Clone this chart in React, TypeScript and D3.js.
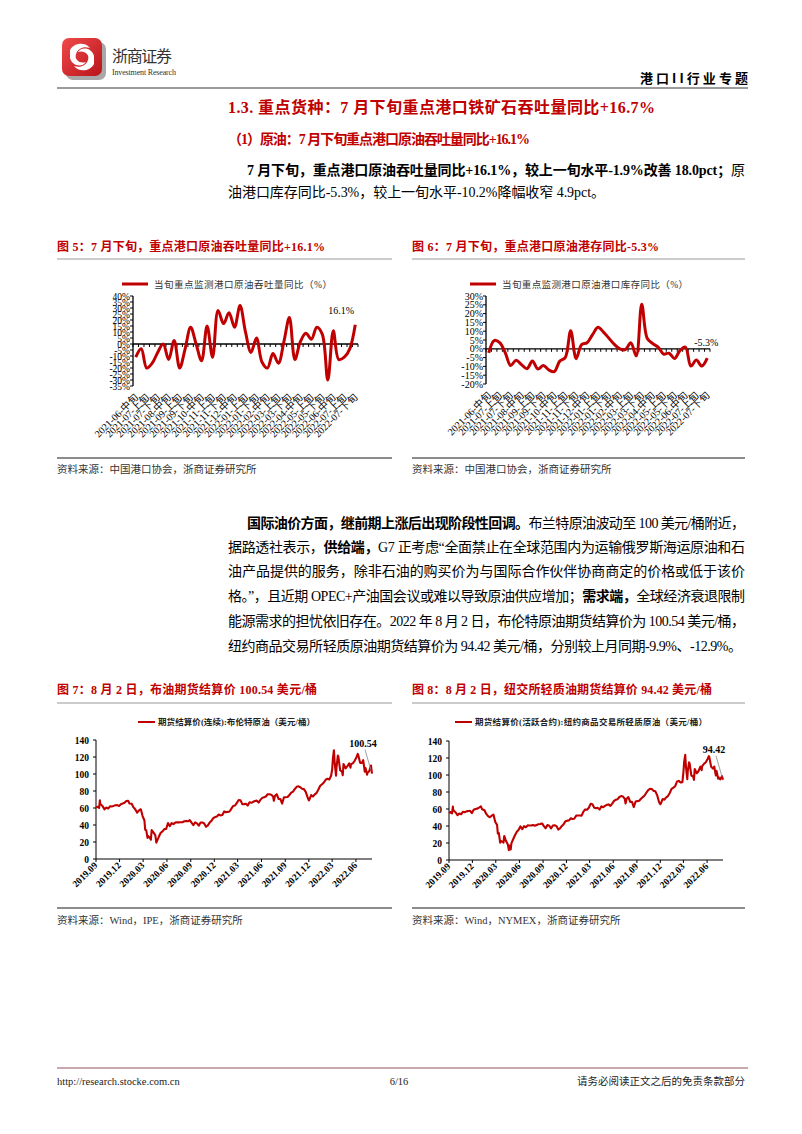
import React from 'react';
import * as d3 from 'd3';

const RED = '#C00000';
const SERIF = '"Liberation Serif", "Times New Roman", "Noto Sans CJK SC", serif';

// ---------- data ----------
const dekads = [
  '2021-06-中旬','2021-06-下旬','2021-07-上旬','2021-07-中旬','2021-07-下旬','2021-08-上旬','2021-08-中旬','2021-08-下旬',
  '2021-09-上旬','2021-09-中旬','2021-09-下旬','2021-10-上旬','2021-10-中旬','2021-10-下旬','2021-11-上旬','2021-11-中旬',
  '2021-11-下旬','2021-12-上旬','2021-12-中旬','2021-12-下旬','2022-01-上旬','2022-01-中旬','2022-01-下旬','2022-02-上旬',
  '2022-02-中旬','2022-02-下旬','2022-03-上旬','2022-03-中旬','2022-03-下旬','2022-04-上旬','2022-04-中旬','2022-04-下旬',
  '2022-05-上旬','2022-05-中旬','2022-05-下旬','2022-06-上旬','2022-06-中旬','2022-06-下旬','2022-07-上旬','2022-07-中旬',
  '2022-07-下旬'
];

const throughputYoY = [
  -11, -4, -20, -16, -7, 0, -13, 3, -20, -4,
  14, 0, -14, 15, -11, 28, 17, 26, 14, 32,
  10, -7, 5, -15, -20, -8, -16, 2, 22, -13,
  2, 9, 4, 14, 8, -30, 11, -13, -11, -4,
  16.1
];

const inventoryYoY = [
  -2.3, 4.7, 3.5, -2, -9.5, -6.5, -9, -11.3, -7, -11.5,
  -9.5, -12, -13, -7, -5, 10.3, -5.6, 2.4, 3.4, 8,
  12.2, 9.5, 6, 2.5, 0, -0.5, 3.4, -4, 25.3, 6,
  3, 1, -3, -2.5, -5.5, -1, 1, -9.8, -6.4, -9.8,
  -5.3
];

const brentSeries: [string, number][] = [
  ['2019-09-02',60.5],['2019-09-06',61.5],['2019-09-13',60.2],['2019-09-16',69.0],['2019-09-17',64.6],['2019-09-20',64.3],['2019-09-27',61.9],
  ['2019-10-04',58.4],['2019-10-11',60.5],['2019-10-18',59.4],['2019-10-25',62.0],['2019-11-01',61.7],['2019-11-08',62.5],
  ['2019-11-15',63.3],['2019-11-22',63.4],['2019-11-29',62.4],['2019-12-06',64.4],['2019-12-13',65.2],['2019-12-20',66.1],
  ['2019-12-27',68.2],['2020-01-03',68.6],['2020-01-08',65.4],['2020-01-17',64.9],['2020-01-24',60.7],['2020-01-31',58.2],
  ['2020-02-07',54.5],['2020-02-14',57.3],['2020-02-21',58.5],['2020-02-28',50.5],['2020-03-06',45.3],['2020-03-09',34.4],
  ['2020-03-13',33.9],['2020-03-18',24.9],['2020-03-20',27.0],['2020-03-27',25.0],['2020-03-31',22.7],['2020-04-03',34.1],
  ['2020-04-09',31.5],['2020-04-17',28.1],['2020-04-21',19.3],['2020-04-24',21.4],['2020-05-01',26.4],['2020-05-08',30.9],
  ['2020-05-15',32.5],['2020-05-22',35.1],['2020-05-29',35.3],['2020-06-05',42.3],['2020-06-12',38.7],['2020-06-19',42.2],
  ['2020-06-26',41.0],['2020-07-03',42.8],['2020-07-10',43.2],['2020-07-17',43.1],['2020-07-24',43.3],['2020-07-31',43.3],
  ['2020-08-07',44.4],['2020-08-14',44.8],['2020-08-21',44.4],['2020-08-28',45.8],['2020-09-04',42.7],['2020-09-11',39.8],
  ['2020-09-18',43.2],['2020-09-25',41.9],['2020-10-02',39.3],['2020-10-09',42.9],['2020-10-16',42.9],['2020-10-23',41.8],
  ['2020-10-30',37.9],['2020-11-06',39.5],['2020-11-13',42.8],['2020-11-20',44.9],['2020-11-27',48.2],['2020-12-04',49.3],
  ['2020-12-11',50.0],['2020-12-18',52.3],['2020-12-24',51.3],['2021-01-01',51.8],['2021-01-08',56.0],['2021-01-15',55.1],
  ['2021-01-22',55.4],['2021-01-29',55.9],['2021-02-05',59.3],['2021-02-12',62.4],['2021-02-19',62.9],['2021-02-26',66.1],
  ['2021-03-05',69.4],['2021-03-12',69.2],['2021-03-19',64.5],['2021-03-26',64.6],['2021-04-02',64.9],['2021-04-09',62.9],
  ['2021-04-16',66.8],['2021-04-23',66.1],['2021-04-30',67.3],['2021-05-07',68.3],['2021-05-14',68.7],['2021-05-21',66.4],
  ['2021-05-28',69.6],['2021-06-04',71.9],['2021-06-11',72.7],['2021-06-18',73.5],['2021-06-25',76.2],['2021-07-02',76.2],
  ['2021-07-09',75.6],['2021-07-16',73.6],['2021-07-19',68.6],['2021-07-23',74.1],['2021-07-30',76.3],['2021-08-06',70.7],
  ['2021-08-13',70.6],['2021-08-20',65.2],['2021-08-27',72.7],['2021-09-03',72.6],['2021-09-10',72.9],['2021-09-17',75.3],
  ['2021-09-24',78.1],['2021-10-01',79.3],['2021-10-08',82.4],['2021-10-15',84.9],['2021-10-22',85.5],['2021-10-29',84.4],
  ['2021-11-05',82.7],['2021-11-12',82.2],['2021-11-19',78.9],['2021-11-26',72.7],['2021-12-01',68.9],['2021-12-03',69.9],
  ['2021-12-10',75.2],['2021-12-17',73.5],['2021-12-24',76.1],['2021-12-31',77.8],['2022-01-07',81.8],['2022-01-14',86.1],
  ['2022-01-21',87.9],['2022-01-28',90.0],['2022-02-04',93.3],['2022-02-11',94.4],['2022-02-18',93.5],['2022-02-25',97.9],
  ['2022-03-01',105.0],['2022-03-04',118.1],['2022-03-08',128.0],['2022-03-11',112.7],['2022-03-16',98.0],['2022-03-18',107.9],
  ['2022-03-23',121.6],['2022-03-25',120.7],['2022-04-01',104.4],['2022-04-08',102.8],['2022-04-11',98.5],['2022-04-14',111.7],
  ['2022-04-22',106.7],['2022-04-29',109.3],['2022-05-06',112.4],['2022-05-11',107.5],['2022-05-13',111.6],['2022-05-20',112.6],
  ['2022-05-27',115.6],['2022-06-03',119.7],['2022-06-08',123.6],['2022-06-10',122.0],['2022-06-17',113.1],['2022-06-24',113.1],
  ['2022-06-29',116.3],['2022-07-05',102.8],['2022-07-08',107.0],['2022-07-14',99.1],['2022-07-15',101.2],['2022-07-22',103.2],
  ['2022-07-29',110.0],['2022-08-02',100.54]
];

const wtiSeries: [string, number][] = [
  ['2019-09-02',55.0],['2019-09-06',56.5],['2019-09-13',54.9],['2019-09-16',62.9],['2019-09-17',59.3],['2019-09-20',58.1],['2019-09-27',55.9],
  ['2019-10-04',52.8],['2019-10-11',54.7],['2019-10-18',53.8],['2019-10-25',56.7],['2019-11-01',56.2],['2019-11-08',57.2],
  ['2019-11-15',57.7],['2019-11-22',57.8],['2019-11-29',55.2],['2019-12-06',59.2],['2019-12-13',60.1],['2019-12-20',60.4],
  ['2019-12-27',61.7],['2020-01-03',63.1],['2020-01-08',59.6],['2020-01-17',58.5],['2020-01-24',54.2],['2020-01-31',51.6],
  ['2020-02-07',50.3],['2020-02-14',52.1],['2020-02-21',53.4],['2020-02-28',44.8],['2020-03-06',41.3],['2020-03-09',31.1],
  ['2020-03-13',31.7],['2020-03-18',20.4],['2020-03-20',22.4],['2020-03-27',21.5],['2020-03-31',20.5],['2020-04-03',28.3],
  ['2020-04-09',22.8],['2020-04-17',18.3],['2020-04-21',11.6],['2020-04-24',17.0],['2020-04-28',12.3],['2020-05-01',19.8],
  ['2020-05-08',24.7],['2020-05-15',29.4],['2020-05-22',33.3],['2020-05-29',35.5],['2020-06-05',39.6],['2020-06-12',36.3],
  ['2020-06-19',39.8],['2020-06-26',38.5],['2020-07-03',40.7],['2020-07-10',40.6],['2020-07-17',40.6],['2020-07-24',41.3],
  ['2020-07-31',40.3],['2020-08-07',41.2],['2020-08-14',42.0],['2020-08-21',42.3],['2020-08-28',43.0],['2020-09-04',39.8],
  ['2020-09-11',37.3],['2020-09-18',41.1],['2020-09-25',40.3],['2020-10-02',37.1],['2020-10-09',40.6],['2020-10-16',40.9],
  ['2020-10-23',39.9],['2020-10-30',35.8],['2020-11-06',37.1],['2020-11-13',40.1],['2020-11-20',42.2],['2020-11-27',45.5],
  ['2020-12-04',46.3],['2020-12-11',46.6],['2020-12-18',49.1],['2020-12-24',48.2],['2020-12-31',48.5],['2021-01-08',52.2],
  ['2021-01-15',52.4],['2021-01-22',52.3],['2021-01-29',52.2],['2021-02-05',56.9],['2021-02-12',59.5],['2021-02-19',59.2],
  ['2021-02-26',61.5],['2021-03-05',66.1],['2021-03-12',65.6],['2021-03-19',61.4],['2021-03-26',61.0],['2021-04-01',61.5],
  ['2021-04-09',59.3],['2021-04-16',63.1],['2021-04-23',62.1],['2021-04-30',63.6],['2021-05-07',64.9],['2021-05-14',65.4],
  ['2021-05-21',63.6],['2021-05-28',66.3],['2021-06-04',69.6],['2021-06-11',70.9],['2021-06-18',71.6],['2021-06-25',74.1],
  ['2021-07-02',75.2],['2021-07-09',74.6],['2021-07-16',71.8],['2021-07-19',66.4],['2021-07-23',72.1],['2021-07-30',74.0],
  ['2021-08-06',68.3],['2021-08-13',68.4],['2021-08-20',62.3],['2021-08-27',68.7],['2021-09-03',69.3],['2021-09-10',69.7],
  ['2021-09-17',72.0],['2021-09-24',74.0],['2021-10-01',75.9],['2021-10-08',79.4],['2021-10-15',82.3],['2021-10-22',83.8],
  ['2021-10-29',83.6],['2021-11-05',81.3],['2021-11-12',80.8],['2021-11-19',76.1],['2021-11-26',68.2],['2021-12-01',65.6],
  ['2021-12-03',66.3],['2021-12-10',71.7],['2021-12-17',70.9],['2021-12-24',73.8],['2021-12-31',75.2],['2022-01-07',78.9],
  ['2022-01-14',83.8],['2022-01-21',85.1],['2022-01-28',86.8],['2022-02-04',92.3],['2022-02-11',93.1],['2022-02-18',91.1],
  ['2022-02-25',91.6],['2022-03-01',103.4],['2022-03-04',115.7],['2022-03-08',123.7],['2022-03-11',109.3],['2022-03-16',95.0],
  ['2022-03-18',104.7],['2022-03-23',114.9],['2022-03-25',113.9],['2022-04-01',99.3],['2022-04-08',98.3],['2022-04-11',94.3],
  ['2022-04-14',107.0],['2022-04-22',102.1],['2022-04-29',104.7],['2022-05-06',109.8],['2022-05-11',105.7],['2022-05-13',110.5],
  ['2022-05-20',113.2],['2022-05-27',115.1],['2022-06-03',118.9],['2022-06-08',122.1],['2022-06-10',120.7],['2022-06-17',109.6],
  ['2022-06-24',107.6],['2022-06-29',109.8],['2022-07-05',99.5],['2022-07-08',104.8],['2022-07-14',95.8],['2022-07-15',97.6],
  ['2022-07-22',94.7],['2022-07-29',98.6],['2022-08-02',94.42]
];

const priceTicks = [0, 20, 40, 60, 80, 100, 120, 140];

// ---------- helpers ----------
type TxtProps = {
  x: number; y: number; size?: number; weight?: any; fill?: string; len?: number;
  anchor?: string; family?: string; children: any; adjust?: string;
};
const Txt = ({ x, y, size = 14, weight = 'normal', fill = '#000', len, anchor = 'start', family = SERIF, children, adjust = 'spacing' }: TxtProps) => (
  <text x={x} y={y} fontSize={size} fontWeight={weight} fill={fill} textAnchor={anchor as any} fontFamily={family}
    {...(len ? { textLength: len, lengthAdjust: adjust } : {})}>{children}</text>
);
const B = ({ children }: any) => <tspan fontWeight="bold">{children}</tspan>;

type DekadProps = {
  left: number; right: number; top: number; bottom: number;
  yMin: number; yMax: number; yStep: number; values: number[];
  legend: string; legendX: number; legendY: number; legendLen: number;
  lastLabel: string; lastDx: number; lastDy: number; labelSize: number;
};

function DekadChart(p: DekadProps) {
  const x = d3.scaleBand<number>().domain(d3.range(dekads.length)).range([p.left, p.right]);
  const y = d3.scaleLinear().domain([p.yMin, p.yMax]).range([p.bottom, p.top]);
  const cx = (i: number) => (x(i) as number) + x.bandwidth() / 2;
  const line = d3.line<number>().x((_, i) => cx(i)).y(d => y(d)).curve(d3.curveCatmullRom.alpha(0.5));
  const yTicks = d3.range(p.yMin, p.yMax + 0.001, p.yStep);
  const y0 = y(0);
  const n = p.values.length - 1;
  return (
    <g>
      <line x1={p.legendX - 32} x2={p.legendX - 6} y1={p.legendY} y2={p.legendY} stroke={RED} strokeWidth={3} />
      <Txt x={p.legendX} y={p.legendY + 3.5} size={9.5} fill="#333" len={p.legendLen}>{p.legend}</Txt>
      <line x1={p.left} x2={p.left} y1={p.top} y2={p.bottom} stroke="#000" strokeWidth={1.3} />
      {yTicks.map(t => (
        <g key={t}>
          <line x1={p.left - 3} x2={p.left} y1={y(t)} y2={y(t)} stroke="#000" strokeWidth={1} />
          <Txt x={p.left - 3} y={y(t) + 3.5} size={p.labelSize} anchor="end">{`${t}%`}</Txt>
        </g>
      ))}
      <line x1={p.left} x2={p.right} y1={y0} y2={y0} stroke="#000" strokeWidth={1.3} />
      {d3.range(dekads.length + 1).map(i => {
        const xx = i < dekads.length ? (x(i) as number) : p.right;
        return <line key={i} x1={xx} x2={xx} y1={y0} y2={y0 + 3} stroke="#000" strokeWidth={1} />;
      })}
      {dekads.map((d, i) => i % 2 === 0 ? (
        <text key={d} transform={`translate(${cx(i) + 3},${p.bottom + 12}) rotate(-45)`} textAnchor="end"
          fontSize={10} fontFamily={SERIF} fill="#000">{d}</text>
      ) : null)}
      <path d={line(p.values) || ''} fill="none" stroke={RED} strokeWidth={3} strokeLinejoin="round" />
      <Txt x={cx(n) + p.lastDx} y={y(p.values[n]) + p.lastDy} size={10} anchor="middle">{p.lastLabel}</Txt>
    </g>
  );
}

type PriceProps = {
  left: number; right: number; top: number; bottom: number; series: [string, number][];
  legend: string; legendX: number; legendY: number; legendLen: number; lastLabel: string;
};

function PriceChart(p: PriceProps) {
  const parse = d3.timeParse('%Y-%m-%d');
  const data = p.series.map(([d, v]) => ({ date: parse(d) as Date, v }));
  const x = d3.scaleTime().domain([new Date(2019, 8, 1), new Date(2022, 7, 2)]).range([p.left, p.right]);
  const y = d3.scaleLinear().domain([0, 140]).range([p.bottom, p.top]);
  const line = d3.line<{ date: Date; v: number }>().x(d => x(d.date)).y(d => y(d.v));
  const xTicks = d3.timeMonths(new Date(2019, 8, 1), new Date(2022, 6, 1), 3);
  const fmt = d3.timeFormat('%Y.%m');
  const last = data[data.length - 1];
  const lx = x(last.date), ly = y(last.v);
  return (
    <g>
      <line x1={p.legendX - 20} x2={p.legendX - 3} y1={p.legendY} y2={p.legendY} stroke={RED} strokeWidth={2} />
      <Txt x={p.legendX} y={p.legendY + 3} size={8.5} weight="bold" fill="#222" len={p.legendLen}>{p.legend}</Txt>
      <line x1={p.left} x2={p.left} y1={p.top} y2={p.bottom} stroke="#000" strokeWidth={1} />
      {priceTicks.map(t => (
        <g key={t}>
          <line x1={p.left - 3} x2={p.left} y1={y(t)} y2={y(t)} stroke="#000" />
          <Txt x={p.left - 7} y={y(t) + 3.5} size={9.5} weight="bold" anchor="end">{String(t)}</Txt>
        </g>
      ))}
      <line x1={p.left} x2={p.right} y1={p.bottom} y2={p.bottom} stroke="#000" strokeWidth={1} />
      {xTicks.map(t => (
        <g key={+t}>
          <line x1={x(t)} x2={x(t)} y1={p.bottom} y2={p.bottom + 3} stroke="#000" />
          <text transform={`translate(${x(t) + 2},${p.bottom + 7}) rotate(-45)`} textAnchor="end" fontSize={9.5}
            fontWeight="bold" fontFamily={SERIF}>{fmt(t)}</text>
        </g>
      ))}
      <path d={line(data) || ''} fill="none" stroke={RED} strokeWidth={2.1} strokeLinejoin="round" />
      <line x1={lx - 7} y1={ly - 24} x2={lx - 1} y2={ly - 3} stroke="#888" strokeWidth={0.8} />
      <Txt x={lx - 9} y={ly - 27} size={10} weight="bold" anchor="middle">{p.lastLabel}</Txt>
    </g>
  );
}

export default function App() {
  const paraX = 228, paraR = 745;
  return (
    <svg width={802} height={1134} viewBox="0 0 802 1134"
      style={{ position: 'absolute', left: 0, top: 0, display: 'block', background: '#fff' }}>
      <defs>
        <linearGradient id="lg" x1="0" y1="0" x2="1" y2="1">
          <stop offset="0" stopColor="#f04a4a" />
          <stop offset="1" stopColor="#b8141a" />
        </linearGradient>
      </defs>
      <rect x={0} y={0} width={802} height={1134} fill="#fff" />

      {/* header */}
      <rect x={66} y={42} width={40} height={38} rx={7} fill="#a8a8a8" />
      <rect x={62} y={38} width={40} height={38} rx={7} fill="url(#lg)" />
      <path d="M70,50 C74,42 86,42 90,48 C84,46 78,48 76,54 C74,60 80,64 86,62 C82,68 72,66 70,58 Z" fill="#fff" />
      <path d="M94,64 C90,72 78,72 74,66 C80,68 86,66 88,60 C90,54 84,50 78,52 C82,46 92,48 94,56 Z" fill="#fff" />
      <Txt x={112} y={62} size={16} fill="#333" len={60} family='"Noto Sans CJK SC", sans-serif'>浙商证券</Txt>
      <Txt x={112} y={75} size={8} fill="#333" len={64}>Investment Research</Txt>
      <Txt x={748} y={83} size={13} weight="bold" anchor="end" len={108} family='"Noto Sans CJK SC", sans-serif'>港口II行业专题</Txt>
      <line x1={57} x2={748} y1={88} y2={88} stroke="#7a7a7a" strokeWidth={1.5} />

      {/* section title */}
      <Txt x={paraX} y={113} size={16} weight="bold" fill={RED} len={427}>1.3. 重点货种：7 月下旬重点港口铁矿石吞吐量同比+16.7%</Txt>
      <Txt x={paraX} y={144} size={14} weight="bold" fill={RED} len={302}>（1）原油：7 月下旬重点港口原油吞吐量同比+16.1%</Txt>
      <Txt x={247} y={175} len={paraR - 247}><B>7 月下旬，重点港口原油吞吐量同比+16.1%，较上一旬水平-1.9%改善 18.0pct；</B>原</Txt>
      <Txt x={paraX} y={197} len={377}>油港口库存同比-5.3%，较上一旬水平-10.2%降幅收窄 4.9pct。</Txt>

      {/* figure 5/6 titles */}
      <Txt x={57} y={251} size={12} weight="bold" fill={RED} len={268}>图 5：7 月下旬，重点港口原油吞吐量同比+16.1%</Txt>
      <line x1={57} x2={392} y1={259} y2={259} stroke="#999" strokeWidth={1} />
      <Txt x={412} y={251} size={12} weight="bold" fill={RED} len={247}>图 6：7 月下旬，重点港口原油港存同比-5.3%</Txt>
      <line x1={412} x2={745} y1={259} y2={259} stroke="#999" strokeWidth={1} />

      <DekadChart left={133} right={358} top={296} bottom={386} yMin={-35} yMax={40} yStep={5}
        values={throughputYoY} legend="当旬重点监测港口原油吞吐量同比（%）" legendX={154} legendY={284} legendLen={178}
        lastLabel="16.1%" lastDx={-14} lastDy={-11} labelSize={9.5} />
      <DekadChart left={486} right={710} top={296} bottom={384} yMin={-20} yMax={30} yStep={5}
        values={inventoryYoY} legend="当旬重点监测港口原油港口库存同比（%）" legendX={502} legendY={284} legendLen={186}
        lastLabel="-5.3%" lastDx={-1} lastDy={-12} labelSize={10} />

      <line x1={57} x2={392} y1={458} y2={458} stroke="#8c8c8c" strokeWidth={2} />
      <line x1={412} x2={745} y1={458} y2={458} stroke="#8c8c8c" strokeWidth={2} />
      <Txt x={57} y={473} size={10.5} fill="#333">资料来源：中国港口协会，浙商证券研究所</Txt>
      <Txt x={412} y={473} size={10.5} fill="#333">资料来源：中国港口协会，浙商证券研究所</Txt>

      {/* paragraph 2 */}
      <Txt x={247} y={528} len={paraR - 247}><B>国际油价方面，继前期上涨后出现阶段性回调。</B>布兰特原油波动至 100 美元/桶附近，</Txt>
      <Txt x={paraX} y={552} len={paraR - paraX}>据路透社表示，<B>供给端，</B>G7 正考虑“全面禁止在全球范围内为运输俄罗斯海运原油和石</Txt>
      <Txt x={paraX} y={576} len={paraR - paraX}>油产品提供的服务，除非石油的购买价为与国际合作伙伴协商商定的价格或低于该价</Txt>
      <Txt x={paraX} y={601} len={paraR - paraX}>格。”，且近期 OPEC+产油国会议或难以导致原油供应增加；<B>需求端，</B>全球经济衰退限制</Txt>
      <Txt x={paraX} y={626} len={paraR - paraX}>能源需求的担忧依旧存在。2022 年 8 月 2 日，布伦特原油期货结算价为 100.54 美元/桶，</Txt>
      <Txt x={paraX} y={651} len={514}>纽约商品交易所轻质原油期货结算价为 94.42 美元/桶，分别较上月同期-9.9%、-12.9%。</Txt>

      {/* figure 7/8 */}
      <Txt x={57} y={694} size={12} weight="bold" fill={RED} len={260}>图 7：8 月 2 日，布油期货结算价 100.54 美元/桶</Txt>
      <line x1={57} x2={392} y1={703} y2={703} stroke="#999" strokeWidth={1} />
      <Txt x={412} y={694} size={12} weight="bold" fill={RED} len={300}>图 8：8 月 2 日，纽交所轻质油期货结算价 94.42 美元/桶</Txt>
      <line x1={412} x2={745} y1={703} y2={703} stroke="#999" strokeWidth={1} />

      <PriceChart left={96} right={372} top={740} bottom={859} series={brentSeries}
        legend="期货结算价(连续):布伦特原油（美元/桶）" legendX={158} legendY={722} legendLen={157} lastLabel="100.54" />
      <PriceChart left={449} right={723} top={741} bottom={860} series={wtiSeries}
        legend="期货结算价(活跃合约):纽约商品交易所轻质原油（美元/桶）" legendX={475} legendY={722} legendLen={232} lastLabel="94.42" />

      <line x1={57} x2={392} y1={908} y2={908} stroke="#8c8c8c" strokeWidth={2} />
      <line x1={412} x2={745} y1={908} y2={908} stroke="#8c8c8c" strokeWidth={2} />
      <Txt x={57} y={924} size={10.5} fill="#333">资料来源：Wind，IPE，浙商证券研究所</Txt>
      <Txt x={412} y={924} size={10.5} fill="#333">资料来源：Wind，NYMEX，浙商证券研究所</Txt>

      {/* footer */}
      <line x1={57} x2={748} y1={1068} y2={1068} stroke="#c9a9ac" strokeWidth={2} />
      <Txt x={57} y={1085} size={10.5} fill="#222">http://research.stocke.com.cn</Txt>
      <Txt x={399} y={1085} size={10.5} fill="#222" anchor="middle">6/16</Txt>
      <Txt x={745} y={1085} size={10.5} fill="#222" anchor="end">请务必阅读正文之后的免责条款部分</Txt>
    </svg>
  );
}
